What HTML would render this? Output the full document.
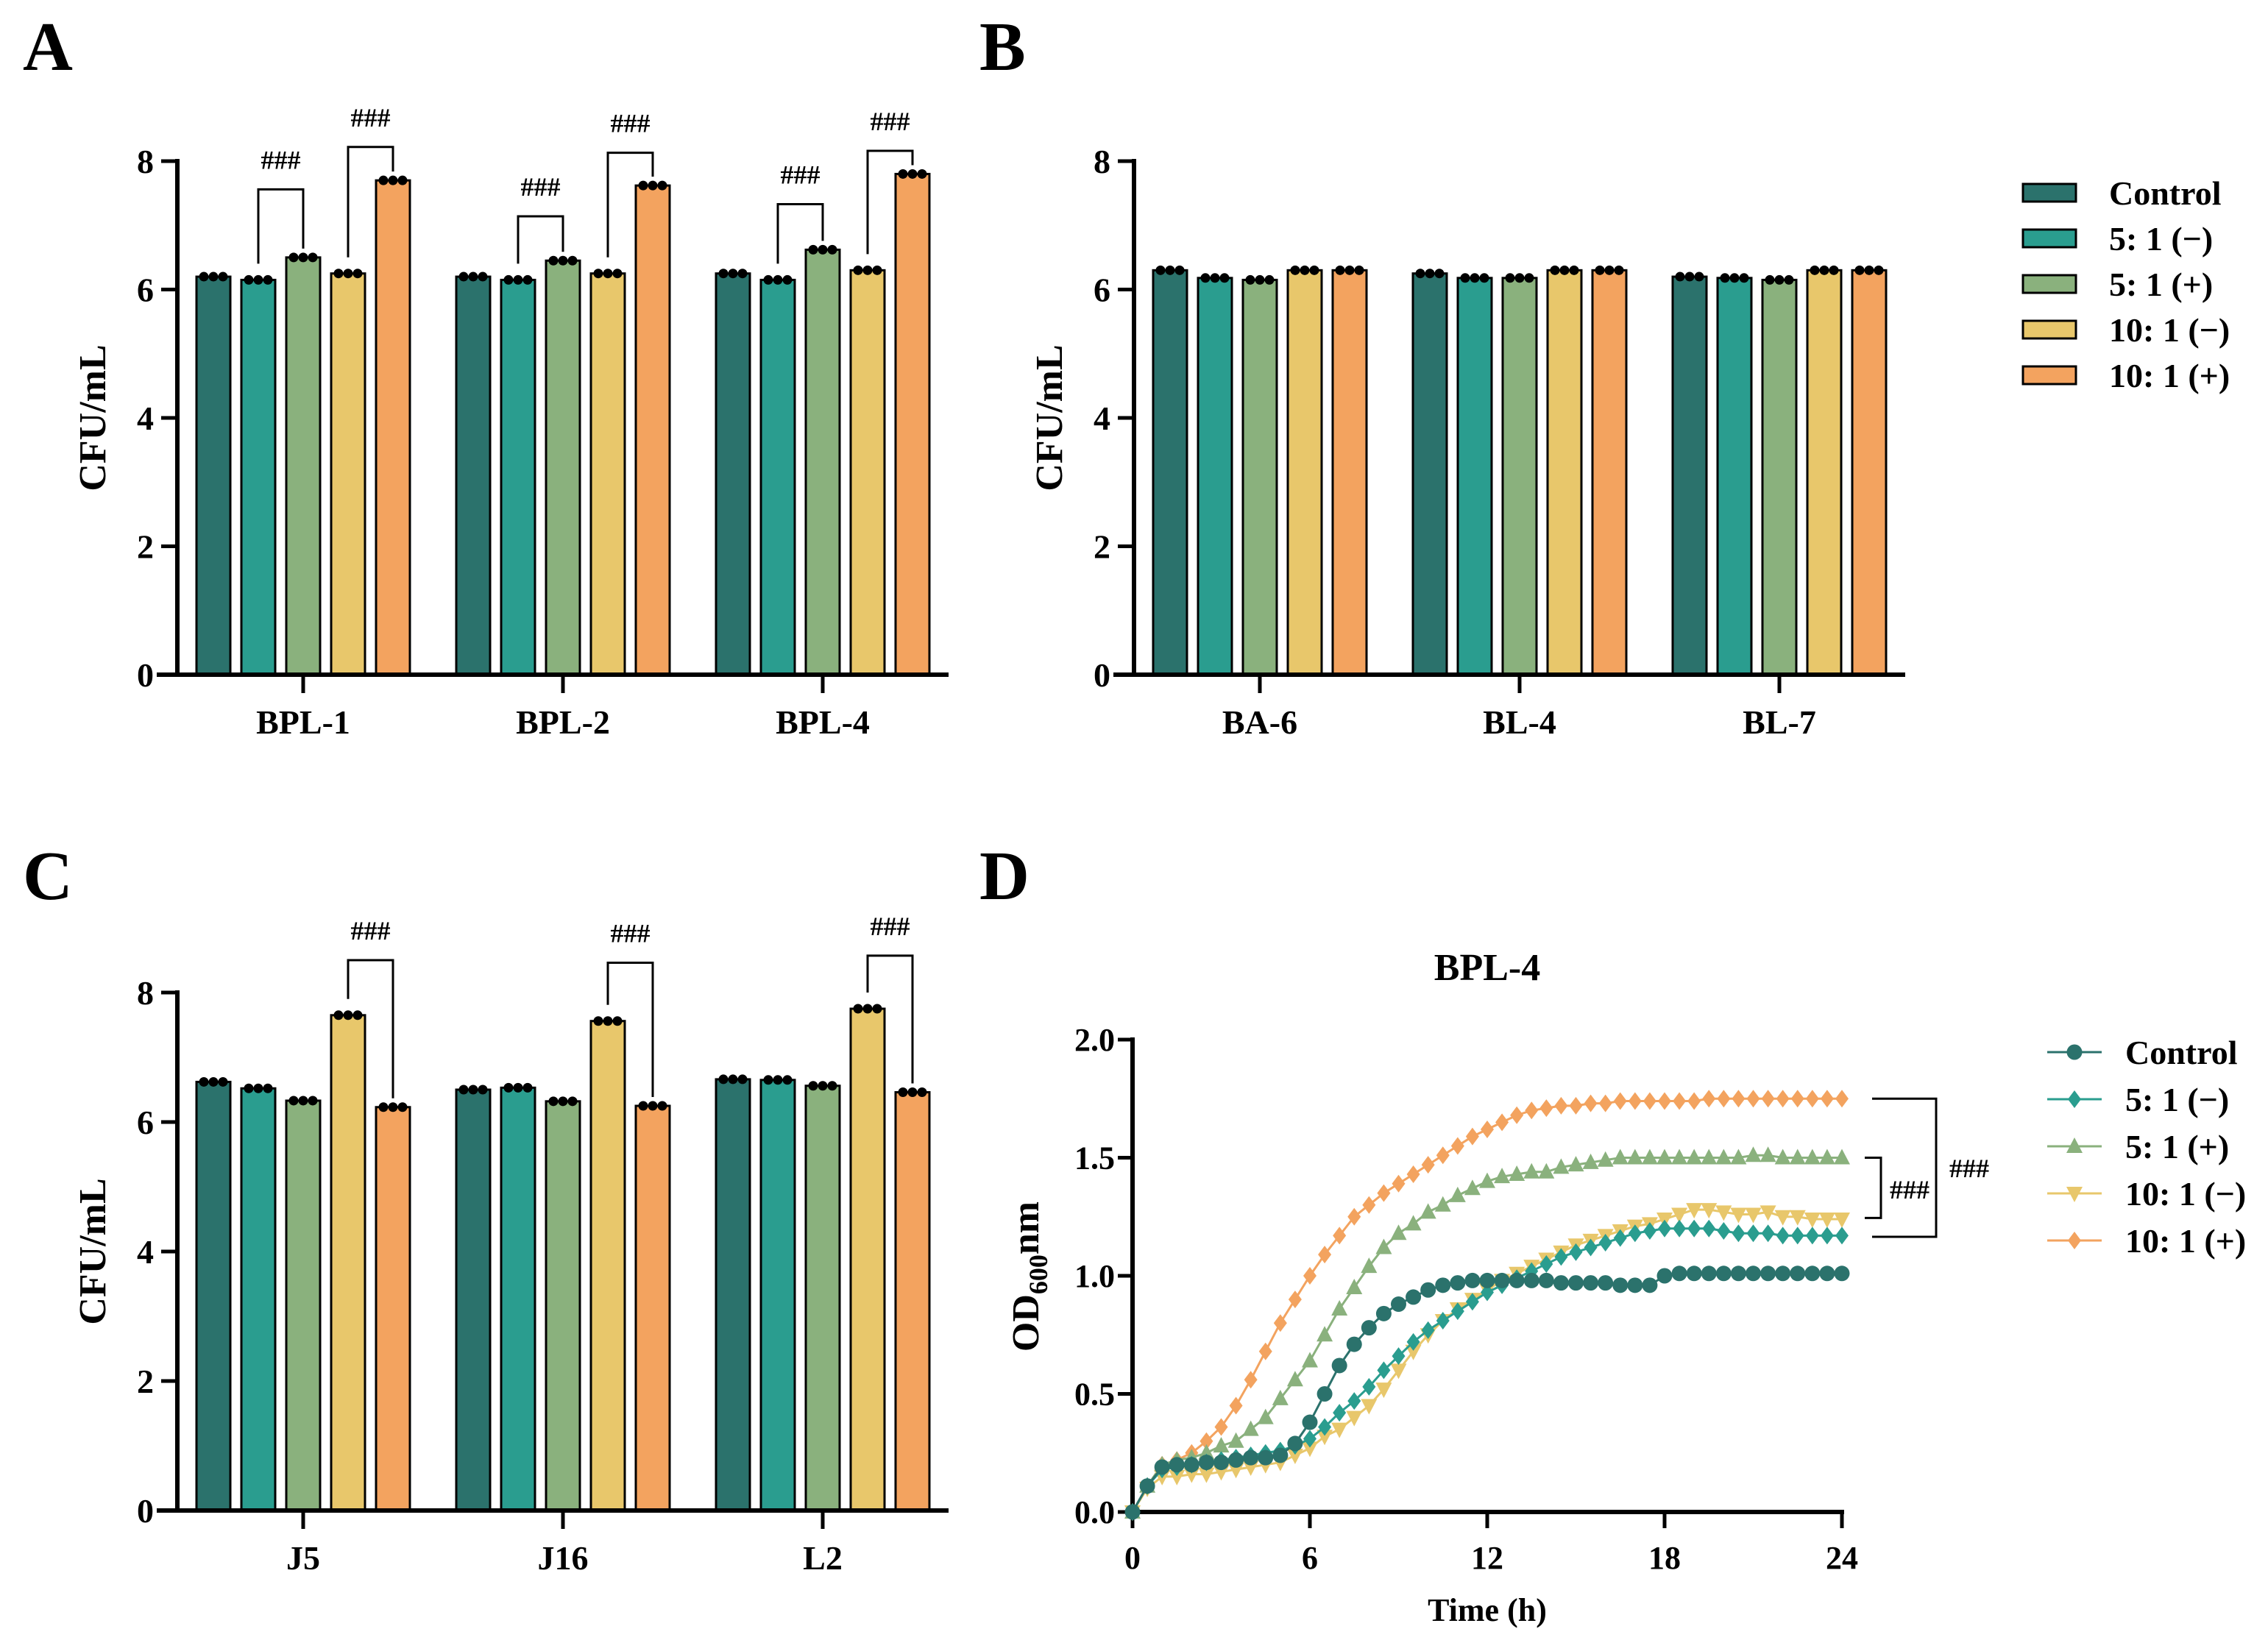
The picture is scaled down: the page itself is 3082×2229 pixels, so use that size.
<!DOCTYPE html>
<html><head><meta charset="utf-8"><style>
html,body{margin:0;padding:0;background:#fff}
svg{display:block}
text{font-family:"Liberation Serif",serif;font-weight:bold;fill:#000}
</style></head><body>
<svg id="fig" width="3082" height="2229" viewBox="0 0 3082 2229" xmlns="http://www.w3.org/2000/svg"></svg>
<script>
const NS='http://www.w3.org/2000/svg';
const svg=document.getElementById('fig');
const seriesNames=['Control','5: 1 (\u2212)','5: 1 (+)','10: 1 (\u2212)','10: 1 (+)'];
const colors=['#2b726c','#2a9d8f','#8ab17d','#e8c76b','#f3a35f'];
// Panel A
const catsA=['BPL-1','BPL-2','BPL-4'];
const valsA=[[6.2,6.15,6.5,6.25,7.7],[6.2,6.15,6.45,6.25,7.62],[6.25,6.15,6.62,6.3,7.8]];
const bracketsA=[[[1,2,7.56],[3,4,8.22]],[[1,2,7.14],[3,4,8.13]],[[1,2,7.33],[3,4,8.16]]];
// Panel B
const catsB=['BA-6','BL-4','BL-7'];
const valsB=[[6.3,6.18,6.15,6.3,6.3],[6.25,6.18,6.18,6.3,6.3],[6.2,6.18,6.15,6.3,6.3]];
const bracketsB=[[],[],[]];
// Panel C
const catsC=['J5','J16','L2'];
const valsC=[[6.62,6.52,6.33,7.65,6.23],[6.5,6.53,6.32,7.56,6.25],[6.66,6.65,6.56,7.75,6.46]];
const bracketsC=[[[3,4,8.5]],[[3,4,8.46]],[[3,4,8.57]]];
const yTicksBar=[0,2,4,6,8];
// Panel D
const timesD=[];for(let i=0;i<=48;i++)timesD.push(i*0.5);
const dControl=[0,0.11,0.19,0.2,0.2,0.21,0.21,0.22,0.23,0.23,0.24,0.29,0.38,0.5,0.62,0.71,0.78,0.84,0.88,0.91,0.94,0.96,0.97,0.98,0.98,0.98,0.98,0.98,0.98,0.97,0.97,0.97,0.97,0.96,0.96,0.96,1.0,1.01,1.01,1.01,1.01,1.01,1.01,1.01,1.01,1.01,1.01,1.01,1.01];
const d5m=[0,0.11,0.18,0.19,0.2,0.21,0.22,0.23,0.24,0.25,0.26,0.28,0.31,0.36,0.42,0.47,0.53,0.6,0.66,0.72,0.77,0.81,0.85,0.89,0.93,0.96,0.99,1.02,1.05,1.08,1.1,1.12,1.14,1.16,1.18,1.19,1.2,1.2,1.2,1.2,1.19,1.18,1.18,1.18,1.17,1.17,1.17,1.17,1.17];
const d5p=[0,0.11,0.2,0.22,0.23,0.25,0.28,0.3,0.35,0.4,0.48,0.56,0.64,0.75,0.86,0.95,1.04,1.12,1.18,1.22,1.27,1.3,1.34,1.37,1.4,1.42,1.43,1.44,1.44,1.46,1.47,1.48,1.49,1.5,1.5,1.5,1.5,1.5,1.5,1.5,1.5,1.5,1.51,1.51,1.5,1.5,1.5,1.5,1.5];
const d10m=[0,0.1,0.15,0.15,0.16,0.16,0.17,0.18,0.19,0.2,0.21,0.24,0.27,0.32,0.35,0.4,0.45,0.52,0.6,0.68,0.75,0.81,0.86,0.9,0.94,0.98,1.01,1.04,1.07,1.1,1.13,1.15,1.17,1.19,1.21,1.22,1.24,1.26,1.28,1.28,1.27,1.26,1.26,1.27,1.25,1.25,1.24,1.24,1.24];
const d10p=[0,0.11,0.2,0.22,0.25,0.3,0.36,0.45,0.56,0.68,0.8,0.9,1.0,1.09,1.17,1.25,1.3,1.35,1.39,1.43,1.47,1.51,1.55,1.59,1.62,1.65,1.68,1.7,1.71,1.72,1.72,1.73,1.73,1.74,1.74,1.74,1.74,1.74,1.74,1.75,1.75,1.75,1.75,1.75,1.75,1.75,1.75,1.75,1.75];
const xTicksD=[0,6,12,18,24];
const yTicksD=[0,0.5,1.0,1.5,2.0];

function el(tag,attrs,parent,txt){const e=document.createElementNS(NS,tag);for(const k in attrs)e.setAttribute(k,attrs[k]);if(txt!==undefined)e.textContent=txt;(parent||svg).appendChild(e);return e;}
function grp(name){const g=el('g',{});return g;}

function barPanel(key,letter,ax,y0,y8,cats,vals,brackets,letterY){
  const g=grp('panel-'+key);
  const ys=v=>y0-(y0-y8)*v/8;
  const t=el('text',{x:ax-210,y:letterY,'font-size':94},g,letter);
  
  const bw=46,pitch=61,gpitch=353,start=ax+26;
  vals.forEach((gv,gi)=>{
    const gx=start+gi*gpitch;
    gv.forEach((v,si)=>{
      const x=gx+si*pitch;
      const r=el('rect',{x:x,y:ys(v),width:bw,height:y0-ys(v),fill:colors[si],stroke:'#000','stroke-width':3},g);
      
      
      for(let k=-1;k<=1;k++)el('circle',{cx:x+bw/2+k*13,cy:ys(v),r:6.5,fill:'#000'},g);
    });
    brackets[gi].forEach(b=>{
      const xa=gx+b[0]*pitch+bw/2,xb=gx+b[1]*pitch+bw/2,yt=ys(b[2]);
      const p=el('path',{d:`M${xa},${ys(gv[b[0]])-22} V${yt} H${xb} V${ys(gv[b[1]])-12}`,fill:'none',stroke:'#000','stroke-width':3},g);
      
      const s=el('text',{x:(xa+xb)/2,y:yt-28,'font-size':36,'text-anchor':'middle','font-weight':'normal'},g,'###');
      
    });
    const cx=gx+2*pitch+bw/2;
    el('line',{x1:cx,y1:y0,x2:cx,y2:y0+25,stroke:'#000','stroke-width':5},g);
    const lt=el('text',{x:cx,y:y0+80,'font-size':46,'text-anchor':'middle'},g,cats[gi]);
    
  });
  el('line',{x1:ax,y1:y8-3,x2:ax,y2:y0,stroke:'#000','stroke-width':6},g);
  el('line',{x1:ax-28,y1:y0,x2:ax+1048,y2:y0,stroke:'#000','stroke-width':6},g);
  yTicksBar.forEach(v=>{
    el('line',{x1:ax-22,y1:ys(v),x2:ax,y2:ys(v),stroke:'#000','stroke-width':5},g);
    const tt=el('text',{x:ax-32,y:ys(v)+16,'font-size':46,'text-anchor':'end'},g,String(v));
    
  });
  const yt=el('text',{x:0,y:0,'font-size':52,'text-anchor':'middle',transform:`translate(${ax-98},${(y0+y8)/2}) rotate(-90)`},g,'CFU/mL');
  
}
barPanel('a','A',241,917,219,catsA,valsA,bracketsA,95);
barPanel('b','B',1541,917,219,catsB,valsB,bracketsB,95);
barPanel('c','C',241,2053,1349,catsC,valsC,bracketsC,1222);

// legend B
const lg=grp('legend-bar');
seriesNames.forEach((n,i)=>{
  const y=[262,324,386,448,510][i];
  const r=el('rect',{x:2749,y:y-12,width:72,height:24,fill:colors[i],stroke:'#000','stroke-width':3},lg);
  
  const t=el('text',{x:2866,y:y+16,'font-size':46},lg,n);
  
});

// Panel D
(function(){
  const g=grp('panel-d');
  const X0=1539,X1=2503,Y0=2055,Y2=1413;
  const xs=t=>X0+(X1-X0)*t/24, ys=v=>Y0-(Y0-Y2)*v/2;
  const L=el('text',{x:1331,y:1222,'font-size':94},g,'D');
  
  const T=el('text',{x:2021,y:1332,'font-size':52,'text-anchor':'middle'},g,'BPL-4');
  
  el('line',{x1:X0,y1:Y2-3,x2:X0,y2:Y0,stroke:'#000','stroke-width':6},g);
  el('line',{x1:X0-3,y1:Y0,x2:X1+3,y2:Y0,stroke:'#000','stroke-width':6},g);
  yTicksD.forEach(v=>{
    el('line',{x1:X0-20,y1:ys(v),x2:X0,y2:ys(v),stroke:'#000','stroke-width':5},g);
    const t=el('text',{x:X0-24,y:ys(v)+15,'font-size':44,'text-anchor':'end'},g,v.toFixed(1));
    
  });
  xTicksD.forEach(v=>{
    el('line',{x1:xs(v),y1:Y0,x2:xs(v),y2:Y0+22,stroke:'#000','stroke-width':5},g);
    const t=el('text',{x:xs(v),y:Y0+77,'font-size':44,'text-anchor':'middle'},g,String(v));
    
  });
  const xt=el('text',{x:(X0+X1)/2,y:2203,'font-size':44,'text-anchor':'middle'},g,'Time (h)');
  
  const yt=el('text',{x:0,y:0,'font-size':52,'text-anchor':'middle',transform:`translate(${1411},${1735}) rotate(-90)`},g);
  
  el('tspan',{},yt,'OD');el('tspan',{'font-size':36,dy:12},yt,'600');el('tspan',{dy:-12},yt,'nm');
  function marker(type,x,y,c,parent){
    if(type==='circle')return el('circle',{cx:x,cy:y,r:10.5,fill:c},parent);
    if(type==='diamond')return el('polygon',{points:`${x},${y-12} ${x+9},${y} ${x},${y+12} ${x-9},${y}`,fill:c},parent);
    if(type==='up')return el('polygon',{points:`${x},${y-12} ${x+11},${y+9} ${x-11},${y+9}`,fill:c},parent);
    return el('polygon',{points:`${x},${y+12} ${x+11},${y-9} ${x-11},${y-9}`,fill:c},parent);
  }
  const types=['circle','diamond','up','down','diamond'];
  const data=[dControl,d5m,d5p,d10m,d10p];
  const order=[4,2,3,1,0];
  order.forEach(si=>{
    const sg=grp('series-'+si);
    const pl=el('polyline',{points:timesD.map((t,i)=>xs(t)+','+ys(data[si][i])).join(' '),fill:'none',stroke:colors[si],'stroke-width':3},sg);
    
    timesD.forEach((t,i)=>{const m=marker(types[si],xs(t),ys(data[si][i]),colors[si],sg);
      });
  });
  const b1=el('path',{d:`M2534,${ys(1.5)} H2556 V${ys(1.245)} H2534`,fill:'none',stroke:'#000','stroke-width':3},g);
  
  const b2=el('path',{d:`M2544,${ys(1.75)} H2631 V${ys(1.165)} H2544`,fill:'none',stroke:'#000','stroke-width':3},g);
  
  const s1=el('text',{x:2595,y:1629,'font-size':36,'text-anchor':'middle','font-weight':'normal'},g,'###');
  
  const s2=el('text',{x:2676,y:1600,'font-size':36,'text-anchor':'middle','font-weight':'normal'},g,'###');
  
  const lgd=grp('legend-line');
  seriesNames.forEach((n,i)=>{
    const y=1430+i*64;
    el('line',{x1:2782,y1:y,x2:2856,y2:y,stroke:colors[i],'stroke-width':3},lgd);
    marker(types[i],2819,y,colors[i],lgd);
    const t=el('text',{x:2888,y:y+16,'font-size':46},lgd,n);
    
  });
})();
</script>
</body></html>
